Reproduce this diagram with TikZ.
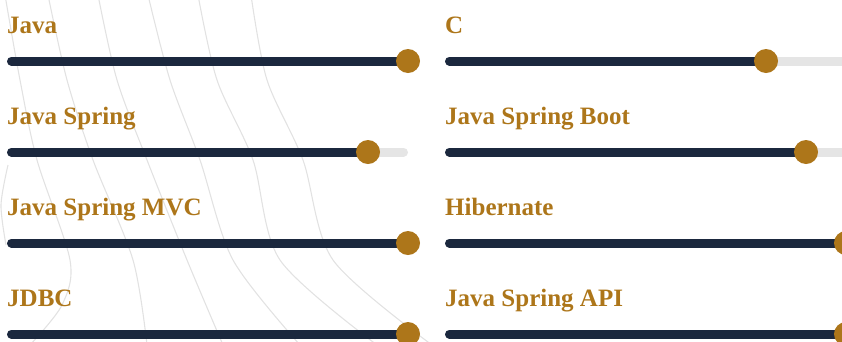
\documentclass[tikz,border=0pt]{standalone}
\usepackage{fontspec}
\setmainfont{Liberation Serif}
\definecolor{gold}{RGB}{173,118,26}
\definecolor{navy}{RGB}{27,40,62}
\definecolor{trackgrey}{RGB}{229,229,229}
\definecolor{wave}{RGB}{226,226,226}
\begin{document}
\begin{tikzpicture}[x=1pt,y=-1pt,
 skilltext/.style={anchor=base west, inner sep=0pt, text=gold, font=\fontsize{25}{30}\selectfont\bfseries},
 track/.style={line width=9pt, line cap=round, draw=trackgrey},
 fillbar/.style={line width=9pt, line cap=round, draw=navy},
 knob/.style={circle, fill=gold, minimum size=24pt, inner sep=0pt},
 wavy/.style={draw=wave, line width=1.1pt}]
\useasboundingbox (0,0) rectangle (842,341);
\clip (0,0) rectangle (842,341);
% background contour lines
\draw[wavy] plot[smooth] coordinates {(5,-5) (20,80) (37,160) (70,260) (62,305) (30,345)};
\draw[wavy] plot[smooth] coordinates {(48,-5) (67,80) (93,160) (133,260) (147,345)};
\draw[wavy] plot[smooth] coordinates {(98,-5) (117,80) (147,160) (187,260) (223,345)};
\draw[wavy] plot[smooth] coordinates {(148,-5) (170,80) (200,160) (233,260) (300,345)};
\draw[wavy] plot[smooth] coordinates {(198,-5) (217,80) (253,160) (280,260) (377,345)};
\draw[wavy] plot[smooth] coordinates {(251,-5) (267,80) (303,160) (333,260) (432,345)};
\draw[wavy] plot[smooth] coordinates {(8,165) (1,205) (6,245)};
% sliders
\foreach \name/\txt/\x/\y/\p in {
  java/Java/8/61/100,
  spring/Java Spring/8/152/90,
  mvc/Java Spring MVC/8/243/100,
  jdbc/JDBC/8/334/100,
  c/C/446/61/80,
  boot/Java Spring Boot/446/152/90,
  hib/Hibernate/446/243/100,
  api/Java Spring API/446/334/100}{
  \node[skilltext] (\name-l) at (\x-1,\y-28) {\txt};
  \coordinate (\name-s) at (\x+3.5,\y);
  \coordinate (\name-e) at (\x+395.5,\y);
  \coordinate (\name-p) at (\x+\p*4,\y);
  \draw[track] (\name-s) -- (\name-e);
  \draw[fillbar] (\name-s) -- (\name-p);
  \node[knob] (\name-k) at (\name-p) {};
}
\end{tikzpicture}
\end{document}
